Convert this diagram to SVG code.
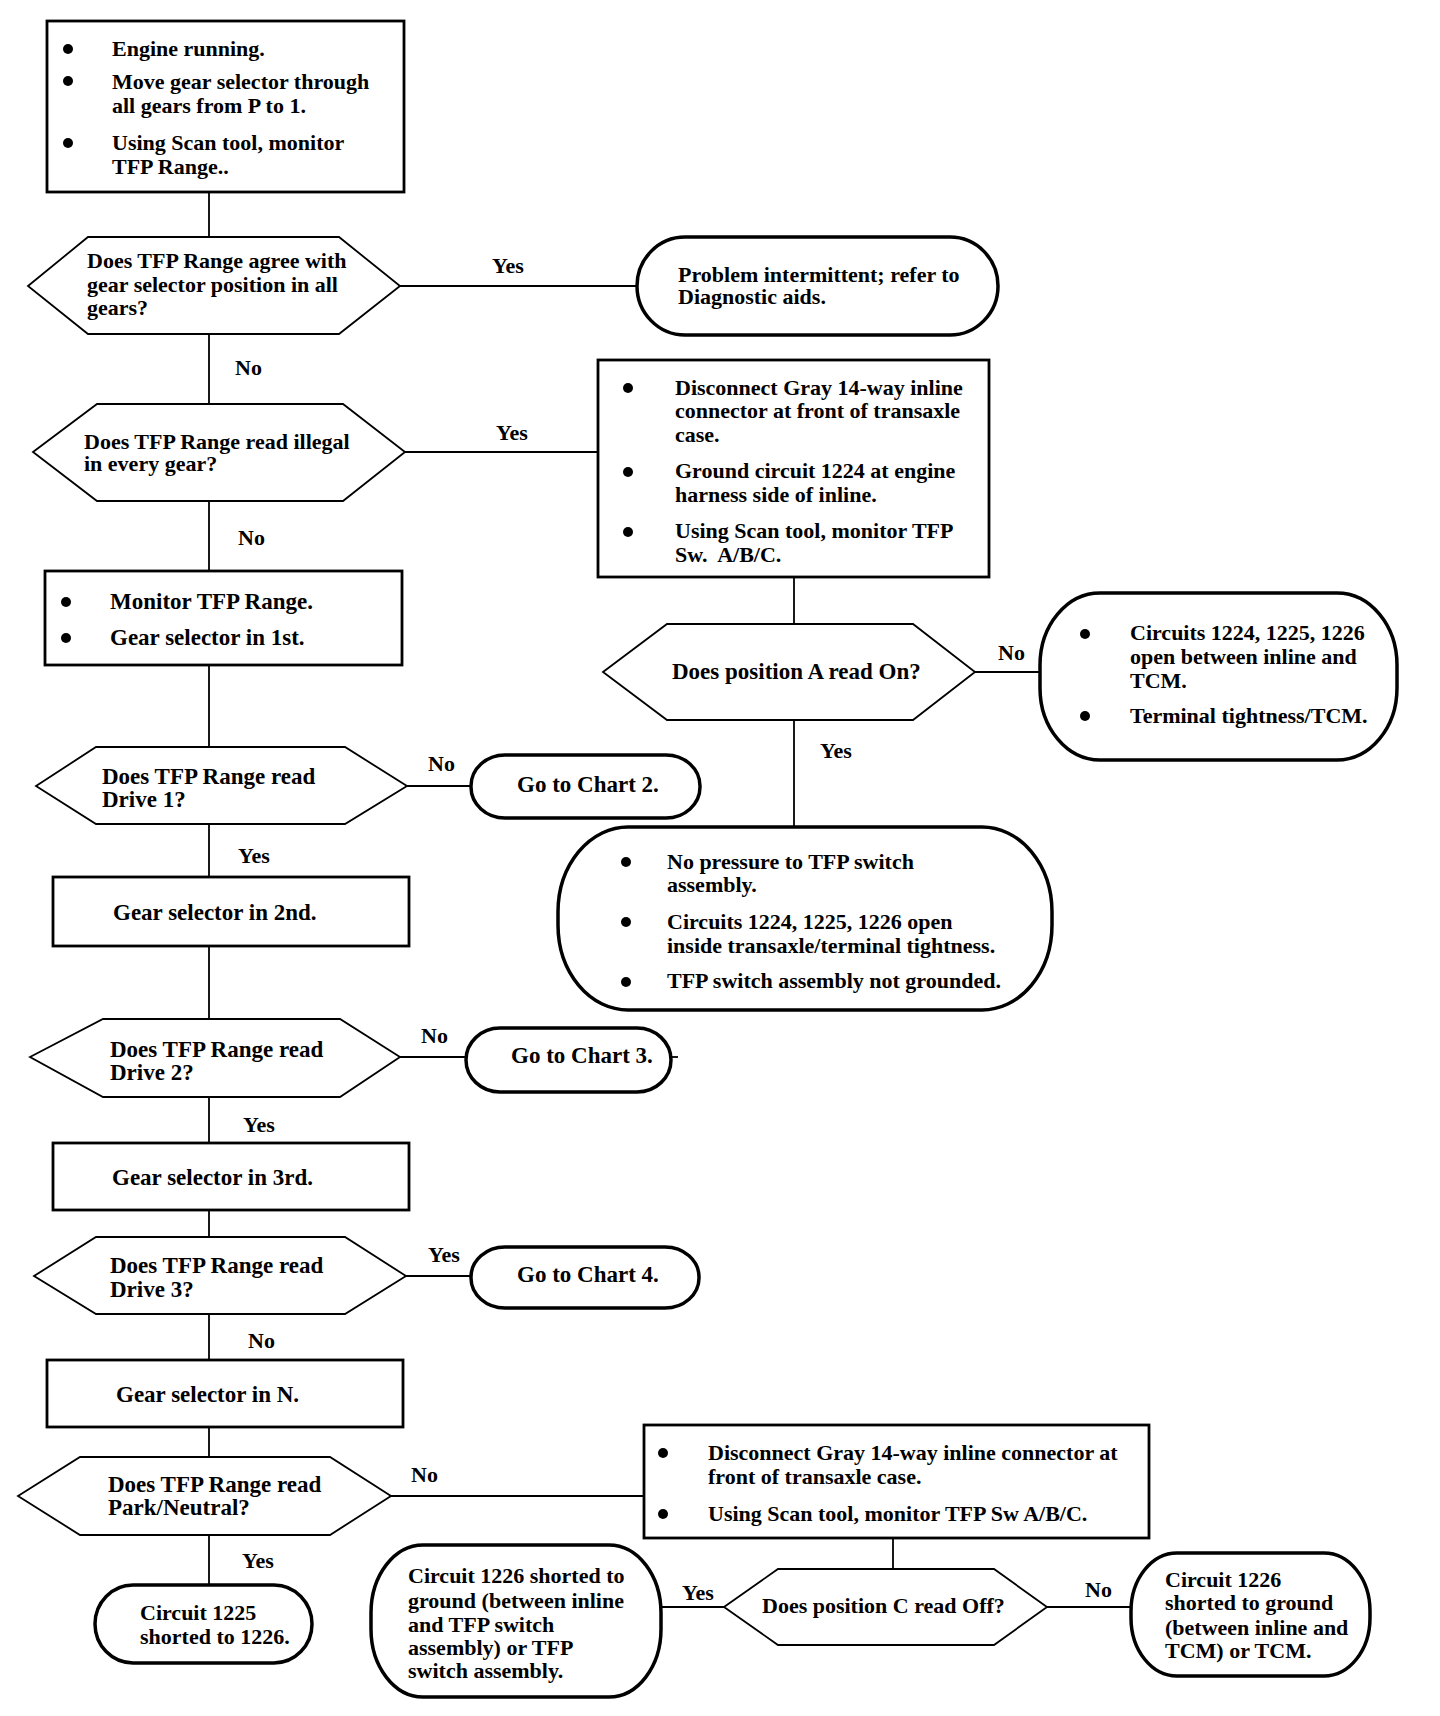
<svg xmlns="http://www.w3.org/2000/svg" width="1440" height="1716" viewBox="0 0 1440 1716">
<style>
text{font-family:"Liberation Serif","Times New Roman",serif;font-weight:bold;font-size:22px;fill:#000}
.l{font-size:23px}
.box{fill:#fff;stroke:#000;stroke-width:2.8}
.dia{fill:#fff;stroke:#000;stroke-width:1.8}
.term{fill:#fff;stroke:#000;stroke-width:3.5}
.con line{stroke:#000;stroke-width:1.8}
.b{fill:#000}
</style>
<rect width="1440" height="1716" fill="#fff"/>
<g class="con" id="connectors">
<line x1="209" y1="192" x2="209" y2="237"/>
<line x1="400" y1="286" x2="637" y2="286"/>
<line x1="209" y1="334" x2="209" y2="404"/>
<line x1="405" y1="452" x2="598" y2="452"/>
<line x1="209" y1="501" x2="209" y2="571"/>
<line x1="794" y1="577" x2="794" y2="624"/>
<line x1="975" y1="672" x2="1040" y2="672"/>
<line x1="794" y1="720" x2="794" y2="827"/>
<line x1="209" y1="665" x2="209" y2="747"/>
<line x1="407" y1="786" x2="471" y2="786"/>
<line x1="209" y1="824" x2="209" y2="877"/>
<line x1="209" y1="946" x2="209" y2="1019"/>
<line x1="400" y1="1057" x2="466" y2="1057"/>
<line x1="671" y1="1057" x2="678" y2="1057"/>
<line x1="209" y1="1097" x2="209" y2="1143"/>
<line x1="209" y1="1210" x2="209" y2="1237"/>
<line x1="406" y1="1276" x2="471" y2="1276"/>
<line x1="209" y1="1314" x2="209" y2="1360"/>
<line x1="209" y1="1427" x2="209" y2="1457"/>
<line x1="391" y1="1496" x2="644" y2="1496"/>
<line x1="209" y1="1535" x2="209" y2="1585"/>
<line x1="893" y1="1538" x2="893" y2="1569"/>
<line x1="661" y1="1607" x2="724" y2="1607"/>
<line x1="1047" y1="1607" x2="1131" y2="1607"/>
</g>
<g id="labels">
<text x="492" y="273">Yes</text>
<text x="235" y="375">No</text>
<text x="496" y="440">Yes</text>
<text x="238" y="545">No</text>
<text x="998" y="660">No</text>
<text x="820" y="758">Yes</text>
<text x="428" y="771">No</text>
<text x="238" y="863">Yes</text>
<text x="421" y="1043">No</text>
<text x="243" y="1132">Yes</text>
<text x="428" y="1262">Yes</text>
<text x="248" y="1348">No</text>
<text x="411" y="1482">No</text>
<text x="242" y="1568">Yes</text>
<text x="682" y="1600">Yes</text>
<text x="1085" y="1597">No</text>
</g>
<g id="start">
<rect class="box" x="47" y="21" width="357" height="171"/>
<circle class="b" cx="68" cy="49" r="5"/><circle class="b" cx="68" cy="81" r="5"/><circle class="b" cx="68" cy="143" r="5"/>
<text x="112" y="56">Engine running.</text>
<text x="112" y="89">Move gear selector through</text>
<text x="112" y="113">all gears from P to 1.</text>
<text x="112" y="150">Using Scan tool, monitor</text>
<text x="112" y="174">TFP Range..</text>
</g>
<g id="q-agree">
<polygon class="dia" points="28,286 88,237 339,237 400,286 339,334 88,334"/>
<text x="87" y="268">Does TFP Range agree with</text>
<text x="87" y="292">gear selector position in all</text>
<text x="87" y="315">gears?</text>
</g>
<g id="intermittent">
<rect class="term" x="637" y="237" width="361" height="98" rx="48" ry="49"/>
<text x="678" y="282">Problem intermittent; refer to</text>
<text x="678" y="304">Diagnostic aids.</text>
</g>
<g id="q-illegal">
<polygon class="dia" points="33,452 97,404 343,404 405,452 343,501 97,501"/>
<text x="84" y="449">Does TFP Range read illegal</text>
<text x="84" y="471">in every gear?</text>
</g>
<g id="disconnect1">
<rect class="box" x="598" y="360" width="391" height="217"/>
<circle class="b" cx="628" cy="388" r="5"/><circle class="b" cx="628" cy="472" r="5"/><circle class="b" cx="628" cy="532" r="5"/>
<text x="675" y="395">Disconnect Gray 14-way inline</text>
<text x="675" y="418">connector at front of transaxle</text>
<text x="675" y="442">case.</text>
<text x="675" y="478">Ground circuit 1224 at engine</text>
<text x="675" y="502">harness side of inline.</text>
<text x="675" y="538">Using Scan tool, monitor TFP</text>
<text x="675" y="562" xml:space="preserve">Sw.  A/B/C.</text>
</g>
<g id="monitor">
<rect class="box" x="45" y="571" width="357" height="94"/>
<circle class="b" cx="66" cy="602" r="5"/><circle class="b" cx="66" cy="638" r="5"/>
<text class="l" x="110" y="609">Monitor TFP Range.</text>
<text class="l" x="110" y="645">Gear selector in 1st.</text>
</g>
<g id="q-posA">
<polygon class="dia" points="603,672 667,624 913,624 975,672 913,720 667,720"/>
<text class="l" x="672" y="679">Does position A read On?</text>
</g>
<g id="open-tcm">
<rect class="term" x="1040" y="593" width="357" height="167" rx="60" ry="72"/>
<circle class="b" cx="1085" cy="634" r="5"/><circle class="b" cx="1085" cy="716" r="5"/>
<text x="1130" y="640">Circuits 1224, 1225, 1226</text>
<text x="1130" y="664">open between inline and</text>
<text x="1130" y="688">TCM.</text>
<text x="1130" y="723">Terminal tightness/TCM.</text>
</g>
<g id="no-pressure">
<rect class="term" x="558" y="827" width="494" height="183" rx="70" ry="85"/>
<circle class="b" cx="626" cy="862" r="5"/><circle class="b" cx="626" cy="922" r="5"/><circle class="b" cx="626" cy="982" r="5"/>
<text x="667" y="869">No pressure to TFP switch</text>
<text x="667" y="892">assembly.</text>
<text x="667" y="929">Circuits 1224, 1225, 1226 open</text>
<text x="667" y="953">inside transaxle/terminal tightness.</text>
<text x="667" y="988">TFP switch assembly not grounded.</text>
</g>
<g id="q-drive1">
<polygon class="dia" points="36,786 96,747 345,747 407,786 345,824 96,824"/>
<text class="l" x="102" y="784">Does TFP Range read</text>
<text class="l" x="102" y="807">Drive 1?</text>
</g>
<g id="chart2">
<rect class="term" x="471" y="755" width="229" height="63" rx="34" ry="31"/>
<text class="l" x="517" y="792">Go to Chart 2.</text>
</g>
<g id="gear2">
<rect class="box" x="53" y="877" width="356" height="69"/>
<text class="l" x="113" y="920">Gear selector in 2nd.</text>
</g>
<g id="q-drive2">
<polygon class="dia" points="30,1057 103,1019 340,1019 400,1057 340,1097 103,1097"/>
<text class="l" x="110" y="1057">Does TFP Range read</text>
<text class="l" x="110" y="1080">Drive 2?</text>
</g>
<g id="chart3">
<rect class="term" x="466" y="1028" width="205" height="64" rx="34" ry="32"/>
<text class="l" x="511" y="1063">Go to Chart 3.</text>
</g>
<g id="gear3">
<rect class="box" x="53" y="1143" width="356" height="67"/>
<text class="l" x="112" y="1185">Gear selector in 3rd.</text>
</g>
<g id="q-drive3">
<polygon class="dia" points="34,1276 96,1237 345,1237 406,1276 345,1314 96,1314"/>
<text class="l" x="110" y="1273">Does TFP Range read</text>
<text class="l" x="110" y="1297">Drive 3?</text>
</g>
<g id="chart4">
<rect class="term" x="471" y="1247" width="228" height="61" rx="34" ry="30"/>
<text class="l" x="517" y="1282">Go to Chart 4.</text>
</g>
<g id="gearN">
<rect class="box" x="47" y="1360" width="356" height="67"/>
<text class="l" x="116" y="1402">Gear selector in N.</text>
</g>
<g id="q-park">
<polygon class="dia" points="18,1496 80,1457 330,1457 391,1496 330,1535 80,1535"/>
<text class="l" x="108" y="1492">Does TFP Range read</text>
<text class="l" x="108" y="1515">Park/Neutral?</text>
</g>
<g id="disconnect2">
<rect class="box" x="644" y="1425" width="505" height="113"/>
<circle class="b" cx="663" cy="1453" r="5"/><circle class="b" cx="663" cy="1514" r="5"/>
<text x="708" y="1460">Disconnect Gray 14-way inline connector at</text>
<text x="708" y="1484">front of transaxle case.</text>
<text x="708" y="1521">Using Scan tool, monitor TFP Sw A/B/C.</text>
</g>
<g id="short1225">
<rect class="term" x="95" y="1585" width="217" height="78" rx="38" ry="39"/>
<text x="140" y="1620">Circuit 1225</text>
<text x="140" y="1644">shorted to 1226.</text>
</g>
<g id="short1226-switch">
<rect class="term" x="371" y="1545" width="290" height="152" rx="52" ry="68"/>
<text x="408" y="1583">Circuit 1226 shorted to</text>
<text x="408" y="1608">ground (between inline</text>
<text x="408" y="1632">and TFP switch</text>
<text x="408" y="1655">assembly) or TFP</text>
<text x="408" y="1678">switch assembly.</text>
</g>
<g id="q-posC">
<polygon class="dia" points="724,1607 778,1569 994,1569 1047,1607 994,1645 778,1645"/>
<text x="762" y="1613">Does position C read Off?</text>
</g>
<g id="short1226-tcm">
<rect class="term" x="1131" y="1553" width="239" height="123" rx="46" ry="58"/>
<text x="1165" y="1587">Circuit 1226</text>
<text x="1165" y="1610">shorted to ground</text>
<text x="1165" y="1635">(between inline and</text>
<text x="1165" y="1658">TCM) or TCM.</text>
</g>
</svg>
